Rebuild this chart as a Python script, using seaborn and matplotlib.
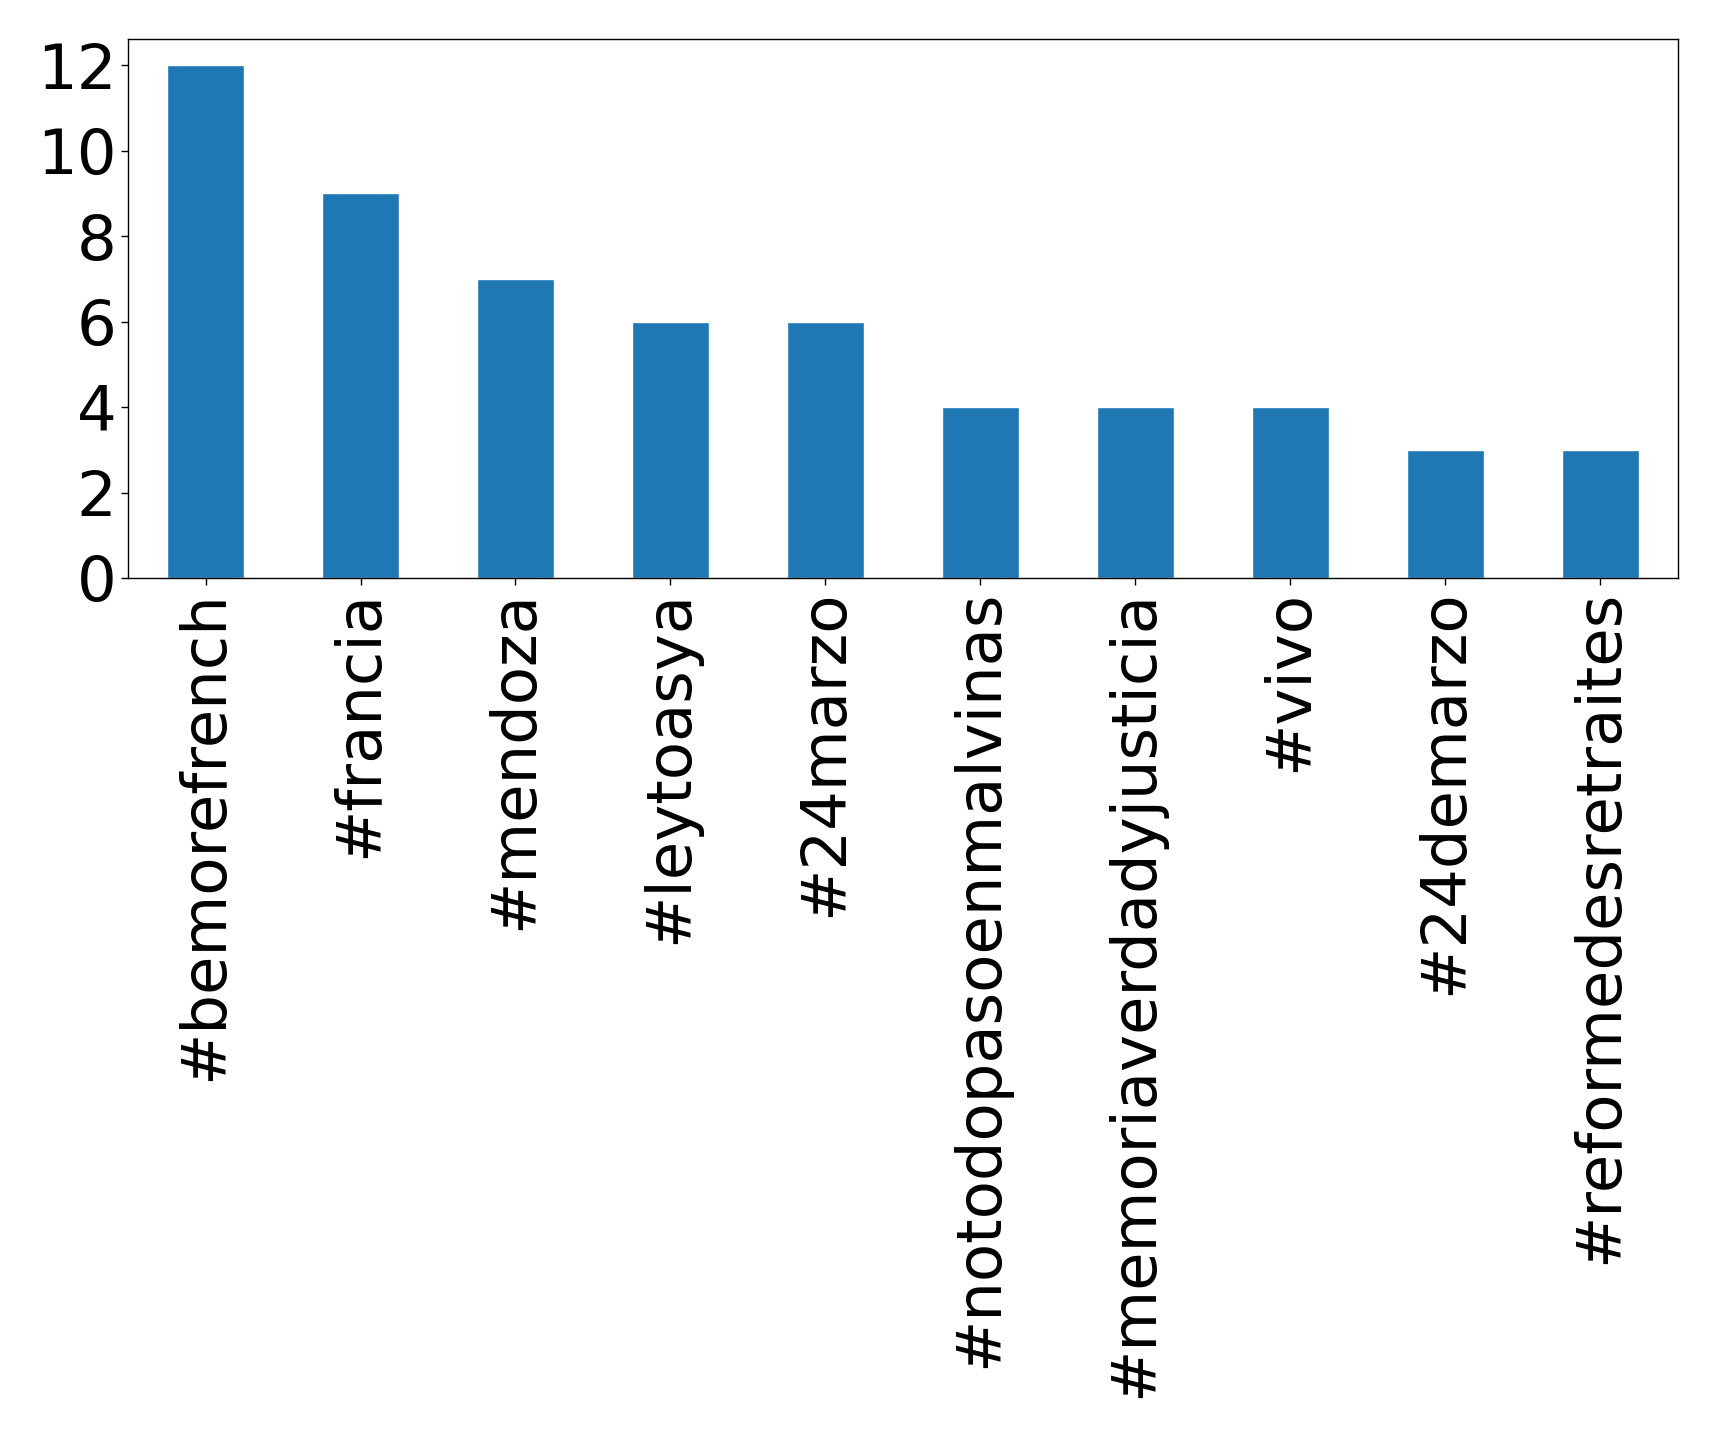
import matplotlib
matplotlib.use("Agg")
import matplotlib.pyplot as plt
import seaborn as sns
import pandas as pd

# Hashtag counts
hashtags = ['#bemorefrench', '#francia', '#mendoza', '#leytoasya', '#24marzo',
            '#notodopasoenmalvinas', '#memoriaverdadyjusticia', '#vivo',
            '#24demarzo', '#reformedesretraites']
counts = [12, 9, 7, 6, 6, 4, 4, 4, 3, 3]

df = pd.DataFrame({'hashtag': hashtags, 'count': counts})

sns.set_style("white")
plt.rcParams['font.family'] = ['DejaVu Sans']

fig = plt.figure(figsize=(17.19, 14.36), dpi=100)
ax = fig.add_axes([0.0745, 0.5975, 0.9015, 0.375])

sns.barplot(data=df, x='hashtag', y='count', color='#1f77b4', saturation=1,
            width=0.5, ax=ax)

ax.set_xlim(-0.5, len(hashtags) - 0.5)
ax.set_ylim(0, 12.6)
ax.set_yticks([0, 2, 4, 6, 8, 10, 12])
ax.set_xlabel('')
ax.set_ylabel('')
ax.tick_params(axis='both', labelsize=45, labelcolor='black', color='black',
               length=5, width=1, left=True, bottom=True)
plt.setp(ax.get_xticklabels(), rotation=90)
for s in ax.spines.values():
    s.set_visible(True)
    s.set_color('black')
    s.set_linewidth(1)

fig.savefig('out.png', dpi=100)
